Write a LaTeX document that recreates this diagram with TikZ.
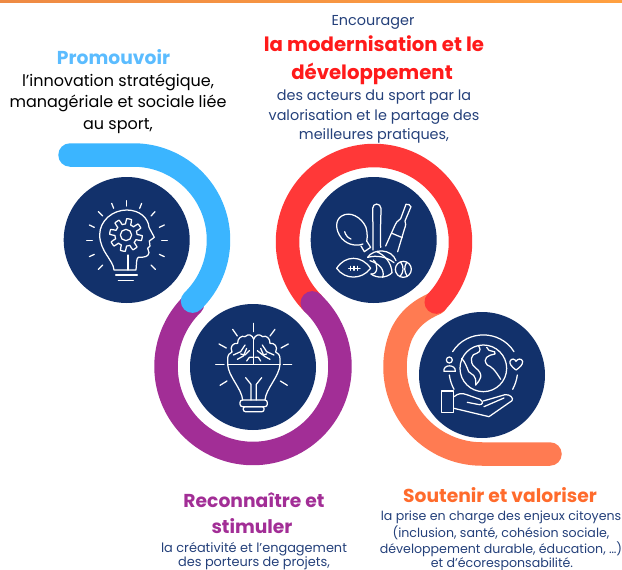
\documentclass[tikz,border=0pt]{standalone}
\usepackage{fontspec}
\setmainfont{Poppins}
\usetikzlibrary{calc}
\definecolor{cblue}{HTML}{3BB5FF}
\definecolor{cpurple}{HTML}{A22E96}
\definecolor{cred}{HTML}{FF3838}
\definecolor{corange}{HTML}{FF7B52}
\definecolor{cnavy}{HTML}{12316B}
\definecolor{ctext}{HTML}{24407A}
\definecolor{hblue}{HTML}{5BBCFF}
\definecolor{hred}{HTML}{FF1A1A}
\definecolor{horange}{HTML}{FF6B2C}
\definecolor{barl}{HTML}{EE8A44}
\definecolor{barr}{HTML}{FFA040}
\tikzset{
  band/.style={line width=23.5pt,line cap=round,line join=round},
  disc/.style={circle,fill=cnavy,minimum size=126pt,inner sep=0pt},
  iconline/.style={draw=white,line width=1.25pt,line cap=round,line join=round},
  bodyline/.style={anchor=base,inner sep=0pt,font=\fontsize{14.4}{16}\selectfont,text=ctext},
  smallline/.style={anchor=base,inner sep=0pt,font=\fontsize{12.6}{15}\selectfont,text=ctext},
  midline/.style={anchor=base,inner sep=0pt,font=\fontsize{12.9}{15}\selectfont,text=ctext},
  blackline/.style={anchor=base,inner sep=0pt,font=\fontsize{16}{18}\selectfont,text=black},
  headline/.style={anchor=base,inner sep=0pt,font=\fontsize{18.7}{21}\selectfont\bfseries},
  bigline/.style={anchor=base,inner sep=0pt,font=\fontsize{19.7}{22}\selectfont\bfseries,text=hred},
}
\begin{document}
\begin{tikzpicture}[x=1pt,y=-1pt]
\useasboundingbox (0,0) rectangle (622,570);
\shade[left color=barl,right color=barr] (0,0) rectangle (622,2);
% bands
\draw[band,corange] (436,303) .. controls (422,309) and (408,318) .. (400.2,337.2) -- plot[domain=200:90,samples=60] ({482+87*cos(\x)},{367+87*sin(\x)}) -- (550,454);
\draw[band,cred] plot[domain=135:404,samples=90] ({374+86.5*cos(\x)},{242+86.5*sin(\x)});
\draw[band,cpurple] plot[domain=226:-47,samples=90] ({253+87*cos(\x)},{366.5+87*sin(\x)});
\draw[band,cblue] (70,155) -- (133.5,155) -- plot[domain=-90:46,samples=60] ({133.5+85*cos(\x)},{240+85*sin(\x)});
% discs
\node[disc] (d1) at (126.7,240) {};
\node[disc] (d2) at (253,367) {};
\node[disc] (d3) at (373.7,240) {};
\node[disc] (d4) at (482,375) {};
% icon 1
\begin{scope}[x=0.33333pt,y=-0.33333pt,shift={(50pt,-140pt)},iconline]
\foreach \a/\b/\c/\d in {230/182/230/198,185/190/191/205,275/190/269/205,145/215/158/228,315/215/303/228,118/255/133/262,343/255/328/262,110/301/127/301,335/301/352/301,118/350/133/343,328/343/343/350,145/388/158/375,303/375/316/388}
  \draw (\a,\b) -- (\c,\d);
\draw (192,390) .. controls (190,360) and (150,335) .. (149,285) .. controls (149,240) and (190,210) .. (230,210) .. controls (270,210) and (295,235) .. (297,262) -- (313,292) -- (298,303) -- (300,318) -- (293,325) -- (297,338) .. controls (295,350) and (285,352) .. (265,352) .. controls (258,355) and (260,375) .. (258,390) -- cycle;
\draw (234,345) -- (234,390);
\draw (197,405) -- (262,405);
\draw (205,422) -- (250,422);
\draw plot[domain=0:360,samples=145] ({228+(41+8*sign(sin(8*\x)))*cos(\x)},{285+(41+8*sign(sin(8*\x)))*sin(\x)});
\draw (228,285) circle[radius=17];
\end{scope}
% icon 2
\begin{scope}[x=0.33333pt,y=-0.33333pt,shift={(150pt,-280pt)},iconline]
\foreach \a/\b/\c/\d in {311/130/311/155,248/148/262/168,375/148/360/168,207/192/229/204,415/192/393/204,197/253/222/253,400/253/425/253,210/316/231/303,412/316/391/303}
  \draw (\a,\b) -- (\c,\d);
\draw (233,253) -- (390,253);
\draw (233,253) .. controls (235,290) and (275,325) .. (278,360);
\draw (390,253) .. controls (388,290) and (348,325) .. (345,360);
\draw[rounded corners=2.5pt] (270,360) rectangle (352,380);
\draw[rounded corners=2pt] (280,380) rectangle (342,395);
\draw (287,293) -- (303,313) -- (303,360);
\draw (335,293) -- (319,313) -- (319,360);
\draw (233,253) -- (233,238) .. controls (232,225) and (240,218) .. (246,216) .. controls (238,200) and (250,188) .. (263,190) .. controls (262,175) and (275,165) .. (285,170) .. controls (295,160) and (308,165) .. (311,178) .. controls (315,165) and (328,160) .. (338,170) .. controls (348,165) and (361,175) .. (360,190) .. controls (373,188) and (385,200) .. (377,216) .. controls (383,218) and (391,225) .. (390,238) -- (390,253);
\draw (311,178) -- (311,253);
\foreach \a/\b/\c/\d/\e/\f in {250/225/272/215/285/195,262/238/280/228/290/205,298/212/285/225/272/222,290/243/298/232/308/232,372/225/350/215/337/195,360/238/342/228/332/205,322/212/338/225/350/222,332/243/325/232/315/232}
  \draw (\a,\b) -- (\c,\d) -- (\e,\f);
\end{scope}
% icon 3
\begin{scope}[x=0.33333pt,y=-0.33333pt,shift={(270pt,-140pt)},iconline]
\draw (279,312) .. controls (265,318) and (235,318) .. (215,295) .. controls (195,270) and (195,240) .. (215,228) .. controls (240,212) and (275,232) .. (288,262) .. controls (293,280) and (292,298) .. (290,303);
\draw (224,275) .. controls (226,285) and (235,295) .. (243,297);
\draw (273,318) -- (283,335) -- (302,322) -- (290,303);
\draw (309,330) .. controls (310,280) and (308,230) .. (308,205) .. controls (308,188) and (332,188) .. (333,205) .. controls (333,230) and (330,280) .. (332,322);
\draw (408,193) .. controls (412,190) and (422,195) .. (423,200) -- (405,243) .. controls (408,250) and (408,255) .. (403,268) -- (383,335);
\draw (408,193) -- (392,236) .. controls (382,240) and (378,250) .. (373,260) -- (347,318);
\draw (366,280) -- (397,293);
\draw (200,385) .. controls (225,345) and (275,345) .. (302,385) .. controls (275,420) and (225,420) .. (200,385) -- cycle;
\draw (236,385) -- (270,385);
\foreach \x in {242,252,262} \draw (\x,379) -- (\x,391);
\draw (293,352) .. controls (310,325) and (365,325) .. (378,362);
\draw (293,352) .. controls (320,345) and (350,350) .. (372,368);
\draw (300,362) .. controls (330,372) and (345,390) .. (338,412);
\draw (303,402) .. controls (325,405) and (325,370) .. (310,360);
\draw (303,402) .. controls (320,415) and (350,415) .. (366,398);
\draw (320,335) .. controls (345,345) and (365,370) .. (366,398);
\draw (400,388) circle[radius=24];
\draw (392,366) .. controls (402,380) and (402,395) .. (390,410);
\draw (410,367) .. controls (402,380) and (402,395) .. (412,409);
\end{scope}
% icon 4
\begin{scope}[x=0.33333pt,y=-0.33333pt,shift={(380pt,-290pt)},iconline]
\draw (310,235) circle[radius=70];
\draw (218,185) .. controls (260,118) and (360,118) .. (402,185);
\draw (208,255) .. controls (210,270) and (215,285) .. (222,298);
\draw (412,255) .. controls (410,270) and (405,285) .. (398,298);
\draw (208,210) circle[radius=9];
\draw (192,244) .. controls (188,222) and (228,222) .. (226,244) -- cycle;
\draw (408,240) .. controls (395,230) and (388,222) .. (390,214) .. controls (394,204) and (405,206) .. (408,214) .. controls (412,206) and (425,204) .. (428,214) .. controls (428,225) and (420,232) .. (408,240) -- cycle;
\draw (185,303) rectangle (220,368);
\draw (222,320) .. controls (235,310) and (245,308) .. (260,314) -- (300,328) .. controls (312,335) and (308,345) .. (298,344) -- (262,337);
\draw (310,333) -- (375,314) .. controls (390,312) and (402,325) .. (396,332) -- (327,380) -- (222,355);
\draw (312,350) -- (372,324);
\draw (245,205) .. controls (255,215) and (262,235) .. (266,245) .. controls (275,255) and (290,252) .. (287,285);
\draw (287,285) .. controls (300,270) and (315,255) .. (285,232) .. controls (265,215) and (275,190) .. (290,190) .. controls (305,185) and (300,172) .. (295,167);
\draw (320,172) .. controls (325,190) and (350,178) .. (345,192) .. controls (325,195) and (305,205) .. (322,225) .. controls (335,230) and (345,240) .. (362,268);
\end{scope}
% texts
\node[headline,text=hblue] (t1) at (113.5,64) {Promouvoir};
\node[blackline] (t1a) at (118,86) {l’innovation stratégique,};
\node[blackline] (t1b) at (118,107) {managériale et sociale liée};
\node[blackline] (t1c) at (118,129) {au sport,};
\node[bodyline] (t2a) at (373,26) {Encourager};
\node[bigline] (t2b) at (374,51) {la modernisation et le};
\node[bigline] (t2c) at (372,79) {développement};
\node[bodyline] (t2d) at (374,100) {des acteurs du sport par la};
\node[bodyline] (t2e) at (374,120) {valorisation et le partage des};
\node[bodyline] (t2f) at (374,139) {meilleures pratiques,};
\node[headline,text=cpurple] (t3a) at (254,507) {Reconnaître et};
\node[headline,text=cpurple] (t3b) at (252,533) {stimuler};
\node[midline] (t3c) at (254,552) {la créativité et l’engagement};
\node[midline] (t3d) at (254,566.5) {des porteurs de projets,};
\node[headline,text=horange] (t4a) at (500,502) {Soutenir et valoriser};
\node[smallline] (t4b) at (501,520) {la prise en charge des enjeux citoyens};
\node[smallline] (t4c) at (501,537) {(inclusion, santé, cohésion sociale,};
\node[smallline] (t4d) at (501,553) {développement durable, éducation, …)};
\node[smallline] (t4e) at (502,567) {et d’écoresponsabilité.};
\end{tikzpicture}
\end{document}
